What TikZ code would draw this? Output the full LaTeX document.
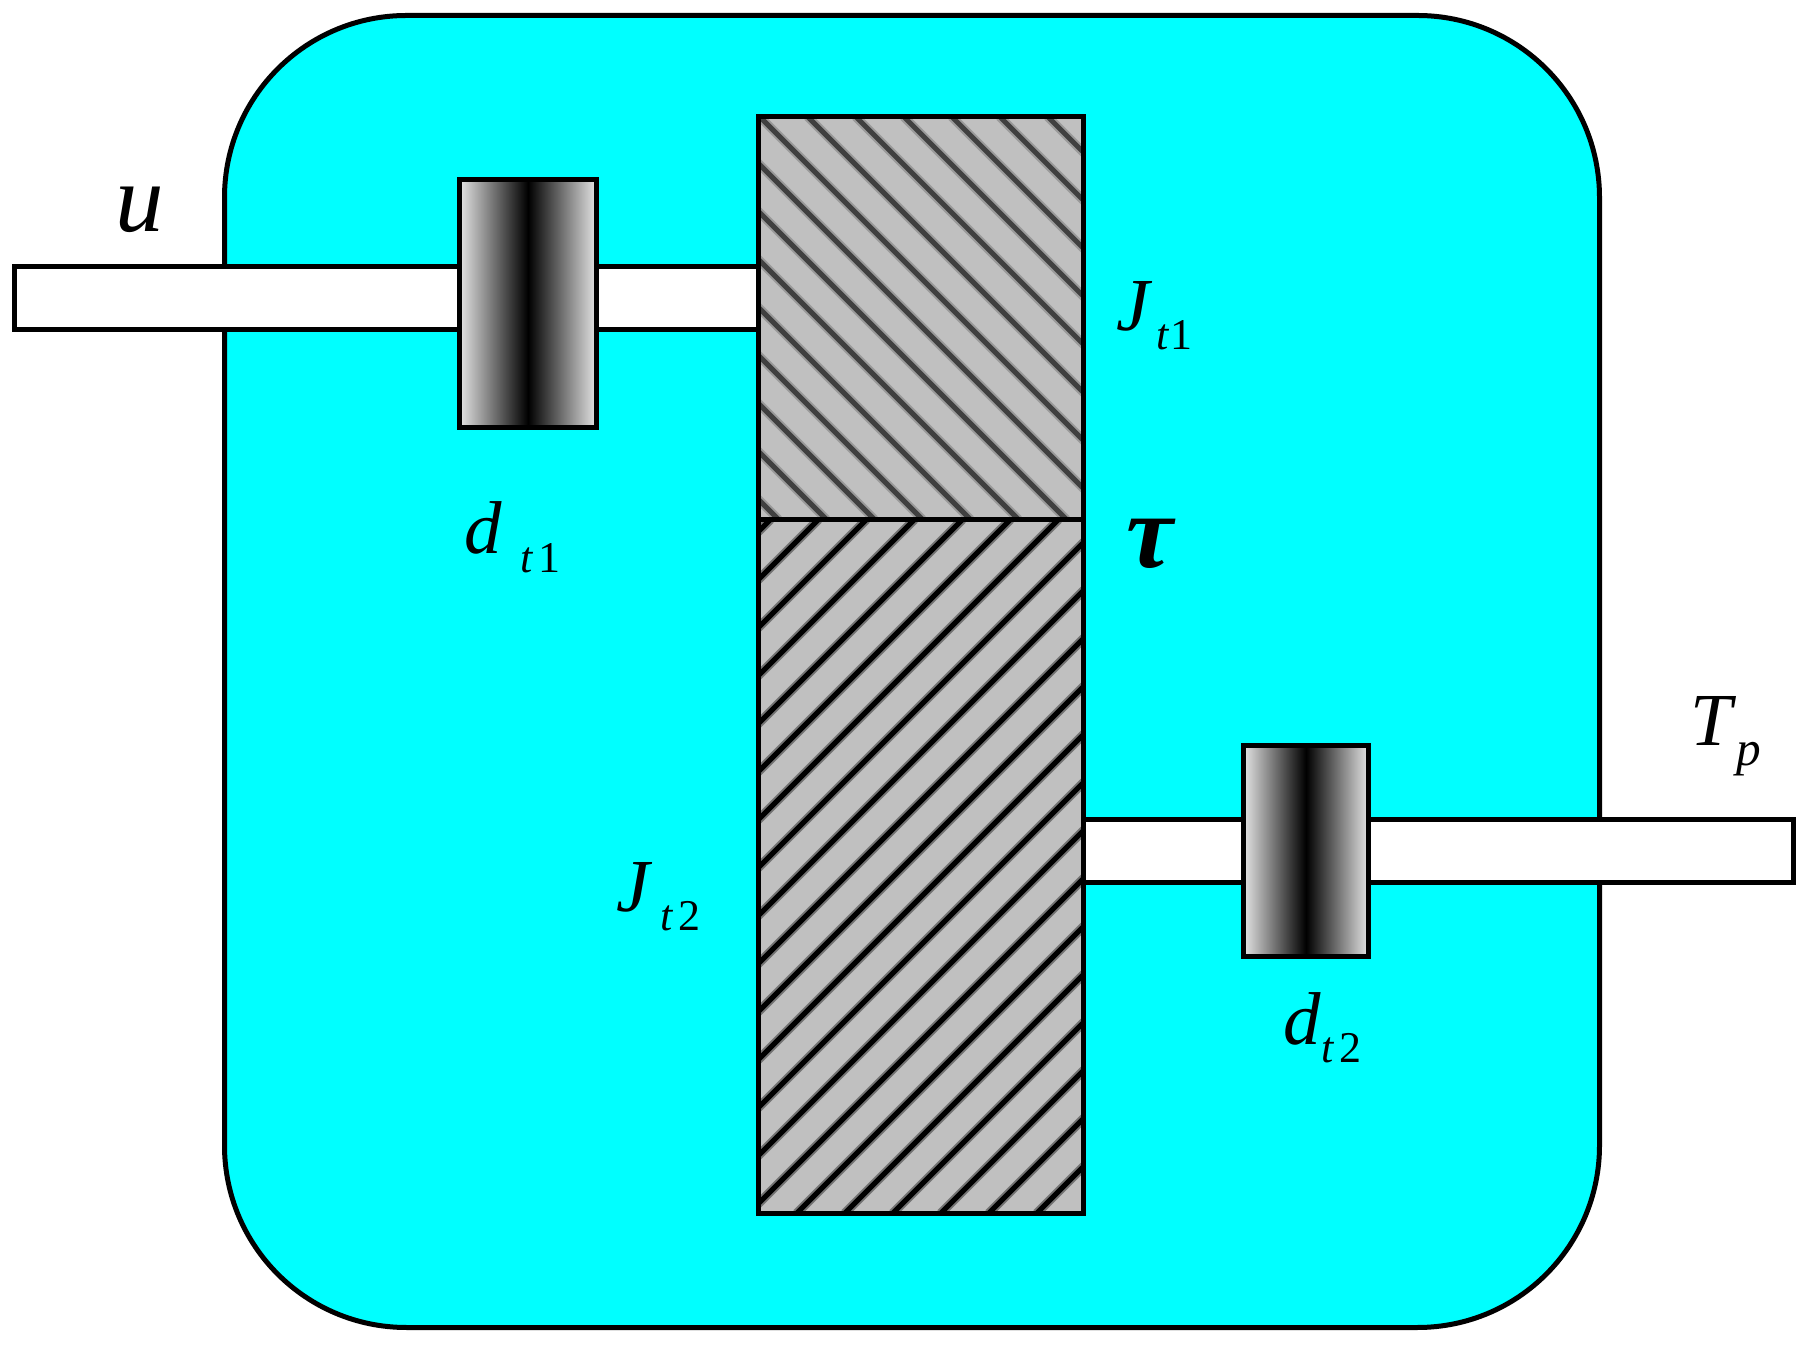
\documentclass[tikz,border=0pt]{standalone}
\usepackage{fontspec}
\setmainfont{Liberation Serif}
\usetikzlibrary{positioning}
\definecolor{housingcyan}{HTML}{00FFFF}
\definecolor{hatchgray}{HTML}{C0C0C0}
\definecolor{fadegray}{HTML}{E4E4E4}

\begin{document}
\begin{tikzpicture}[
		every node/.style={outer sep=0pt},
		solid box/.style={draw, line width=0.05cm, inner sep=0pt},
		housing/.style={solid box, fill=housingcyan, rounded corners=1.82cm},
		shaft/.style={solid box, fill=white},
		inertia/.style={solid box, fill=hatchgray, minimum width=3.25cm},
		damper/.style={solid box, shade, left color=fadegray, right color=fadegray, middle color=black},
		symbol/.style={inner sep=0pt, anchor=base west, font=\fontsize{21.3}{24}\selectfont\itshape},
		bigsymbol/.style={symbol, font=\fontsize{27.6}{30}\selectfont\itshape},
		subscript/.style={inner sep=0pt, anchor=base west, font=\fontsize{12.5}{14}\selectfont}
	]
	\useasboundingbox (0,0) rectangle (18.04,13.45);

	% Housing and the two shafts
	\node[housing, minimum width=13.75cm, minimum height=13.12cm] (housing) at (9.12,6.735) {};
	\node[shaft, minimum width=7.44cm, minimum height=0.63cm] (inshaft) at (3.865,10.47) {};
	\node[shaft, minimum width=7.10cm, minimum height=0.63cm] (outshaft) at (14.385,4.94) {};

	% Dampers
	\node[damper, minimum width=1.37cm, minimum height=2.485cm] (dampin) at (5.28,10.4125) {};
	\node[damper, minimum width=1.25cm, minimum height=2.115cm] (dampout) at (13.06,4.9375) {};

	% Inertias, hatched
	\node[inertia, minimum height=4.03cm] (upper) at (9.21,10.27) {};
	\node[inertia, minimum height=6.94cm, below=0cm of upper] (lower) {};

	\begin{scope}
		\clip (upper.south west) rectangle (upper.north east);
		\foreach \c in {2.59,3.07,...,9.8}{
			\draw[line width=0.09cm, black!20!hatchgray] (\c+1.165,12.285) -- (\c+5.195,8.255);
			\draw[line width=0.05cm, black!75] (\c+1.165,12.285) -- (\c+5.195,8.255);
		}
	\end{scope}
	\begin{scope}
		\clip (lower.south west) rectangle (lower.north east);
		\foreach \c in {12.90,13.38,...,23.0}{
			\draw[line width=0.09cm, black!40!hatchgray] (\c-5.195,8.255) -- (\c-12.135,1.315);
			\draw[line width=0.05cm, black] (\c-5.195,8.255) -- (\c-12.135,1.315);
		}
	\end{scope}
	\draw[line width=0.05cm] (upper.north west) rectangle (lower.south east);
	\draw[line width=0.05cm] (upper.south west) -- (upper.south east);

	% Labels
	\node[bigsymbol] (u) at (1.15,11.133) {u};
	\node[symbol] (dt1) at (4.64,7.91) {d};
	\node[subscript] (dt1sub) at (5.20,7.72) {\textit{t}\hspace{0.05cm}1};
	\node[symbol] (Jt1) at (11.16,10.14) {J};
	\node[subscript] (Jt1sub) at (11.56,9.95) {\textit{t}\hspace{0.01cm}1};
	\node[bigsymbol, font=\fontsize{30}{32}\selectfont\bfseries\itshape] (tau) at (11.26,7.77) {τ};
	\node[symbol] (Jt2) at (6.16,4.33) {J};
	\node[subscript] (Jt2sub) at (6.60,4.14) {\textit{t}\hspace{0.05cm}2};
	\node[symbol] (dt2) at (12.83,3.00) {d};
	\node[subscript] (dt2sub) at (13.21,2.82) {\textit{t}\hspace{0.05cm}2};
	\node[symbol] (Tp) at (16.90,5.99) {T};
	\node[subscript, font=\fontsize{14}{16}\selectfont] (Tpsub) at (17.36,5.79) {\textit{p}};
\end{tikzpicture}
\end{document}
